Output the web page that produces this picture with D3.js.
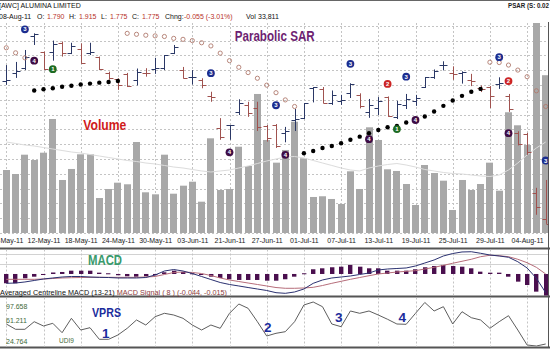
<!DOCTYPE html>
<html><head><meta charset="utf-8">
<script src="https://cdn.jsdelivr.net/npm/d3@7"></script>
<style>
body{margin:0;background:#fff;}
svg{display:block;font-family:"Liberation Sans",Arial,sans-serif;}
</style></head><body>
<svg id="c" width="550" height="350"></svg>
<script>
// ---------- DATA ----------
const dates = ["06-May-11","09-May-11","10-May-11","11-May-11","12-May-11","13-May-11","16-May-11","17-May-11","18-May-11","19-May-11","20-May-11","23-May-11","24-May-11","25-May-11","26-May-11","27-May-11","30-May-11","31-May-11","01-Jun-11","02-Jun-11","03-Jun-11","16-Jun-11","17-Jun-11","20-Jun-11","21-Jun-11","22-Jun-11","23-Jun-11","24-Jun-11","27-Jun-11","28-Jun-11","29-Jun-11","30-Jun-11","01-Jul-11","04-Jul-11","05-Jul-11","06-Jul-11","07-Jul-11","08-Jul-11","11-Jul-11","12-Jul-11","13-Jul-11","14-Jul-11","15-Jul-11","18-Jul-11","19-Jul-11","20-Jul-11","21-Jul-11","22-Jul-11","25-Jul-11","26-Jul-11","27-Jul-11","28-Jul-11","29-Jul-11","01-Aug-11","02-Aug-11","03-Aug-11","04-Aug-11","05-Aug-11","08-Aug-11"];
const tickLabels = ["06-May-11","12-May-11","18-May-11","24-May-11","30-May-11","03-Jun-11","21-Jun-11","27-Jun-11","01-Jul-11","07-Jul-11","13-Jul-11","19-Jul-11","25-Jul-11","29-Jul-11","04-Aug-11"];

const high = [2.281,2.291,2.329,2.382,2.324,2.359,2.356,2.352,2.350,2.352,2.308,2.260,2.239,2.256,2.270,2.271,2.304,2.313,2.345,2.275,2.265,2.239,2.196,2.112,2.090,2.172,2.164,2.164,2.090,2.093,2.084,2.141,2.160,2.211,2.211,2.200,2.186,2.223,2.191,2.173,2.179,2.181,2.167,2.189,2.186,2.243,2.267,2.293,2.277,2.261,2.253,2.216,2.214,2.242,2.189,2.070,2.065,1.890,1.915];
const low = [2.218,2.240,2.265,2.345,2.265,2.295,2.308,2.316,2.285,2.313,2.265,2.234,2.202,2.211,2.216,2.244,2.253,2.265,2.316,2.238,2.219,2.207,2.164,2.043,2.043,2.122,2.116,2.071,2.037,2.017,2.035,2.071,2.109,2.162,2.159,2.154,2.154,2.176,2.143,2.113,2.122,2.116,2.109,2.141,2.151,2.208,2.237,2.264,2.234,2.222,2.214,2.195,2.144,2.205,2.132,2.025,1.995,1.804,1.775];
const open = [2.230,2.256,2.272,2.374,2.323,2.324,2.350,2.321,2.331,2.320,2.306,2.257,2.236,2.253,2.232,2.257,2.269,2.271,2.320,2.265,2.242,2.234,2.181,2.080,2.089,2.133,2.154,2.144,2.087,2.089,2.065,2.106,2.113,2.208,2.205,2.160,2.168,2.191,2.186,2.132,2.144,2.179,2.116,2.154,2.167,2.211,2.242,2.280,2.256,2.256,2.234,2.208,2.210,2.222,2.184,2.065,2.060,1.874,1.790];
const close = [2.232,2.261,2.307,2.379,2.267,2.348,2.321,2.342,2.287,2.323,2.268,2.239,2.218,2.214,2.259,2.255,2.271,2.313,2.339,2.240,2.243,2.218,2.179,2.051,2.090,2.159,2.129,2.084,2.049,2.023,2.071,2.109,2.159,2.210,2.160,2.186,2.170,2.221,2.149,2.154,2.167,2.119,2.157,2.173,2.176,2.242,2.262,2.281,2.254,2.259,2.230,2.205,2.183,2.224,2.141,2.031,2.004,1.830,1.775];

const volume = [13500,12640,16780,15640,17210,24430,11360,13720,16860,16870,7500,9430,10780,10440,19500,8720,8290,16780,8420,10140,10990,6710,20290,9220,9430,18490,14360,29790,19930,15070,17790,23850,16010,7720,7870,7290,6220,13220,9430,22650,19930,13650,13290,10500,6000,14570,12860,11210,4930,11360,9220,10500,15070,9070,25870,23080,18860,52000,33811];
const volumeAvg = [19500,19180,18860,18640,18320,18000,17680,17360,17140,16820,16500,16180,15860,15540,15320,15000,14790,14470,14140,13930,13610,13290,13070,13290,13500,13930,14360,14890,15430,15860,16290,16390,16070,15540,15000,14470,13930,13500,13290,13930,14360,14680,14890,14570,14140,13610,13290,12970,12750,12640,12430,12220,12110,12430,13500,15000,16720,18220,19500];

const sar = [2.336,2.320,2.304,2.200,2.204,2.207,2.212,2.215,2.219,2.222,2.225,2.227,2.230,2.382,2.379,2.376,2.374,2.372,2.366,2.363,2.359,2.352,2.342,2.319,2.295,2.274,2.257,2.239,2.217,2.193,2.170,2.149,2.000,2.007,2.017,2.023,2.032,2.043,2.053,2.064,2.074,2.083,2.087,2.098,2.106,2.117,2.133,2.151,2.168,2.183,2.196,2.205,2.290,2.289,2.281,2.265,2.244,2.199,2.149];
const sarTrend = [-1,-1,-1,1,1,1,1,1,1,1,1,1,1,-1,-1,-1,-1,-1,-1,-1,-1,-1,-1,-1,-1,-1,-1,-1,-1,-1,-1,-1,1,1,1,1,1,1,1,1,1,1,1,1,1,1,1,1,1,1,1,1,-1,-1,-1,-1,-1,-1,-1];

const markerBars = [2,3,5,22,24,29,30,37,39,41,42,43,44,53,54,54,58];
const markerNums = [3,4,1,3,4,3,4,3,4,2,1,3,4,3,2,4,3];
const markerPrices = [2.395,2.295,2.268,2.255,2.003,2.153,1.995,2.285,2.045,2.221,2.077,2.244,2.106,2.306,2.230,2.064,1.977];

const macdLine = [-0.0295,-0.0290,-0.0274,-0.0251,-0.0228,-0.0212,-0.0197,-0.0189,-0.0189,-0.0197,-0.0202,-0.0205,-0.0212,-0.0212,-0.0212,-0.0205,-0.0166,-0.0104,-0.0081,-0.0104,-0.0143,-0.0189,-0.0236,-0.0282,-0.0313,-0.0336,-0.0360,-0.0383,-0.0406,-0.0440,-0.0450,-0.0429,-0.0383,-0.0295,-0.0243,-0.0212,-0.0197,-0.0181,-0.0158,-0.0135,-0.0088,-0.0073,-0.0065,-0.0057,-0.0026,0.0020,0.0067,0.0129,0.0167,0.0191,0.0195,0.0171,0.0144,0.0129,0.0109,0.0040,-0.0057,-0.0217,-0.0440];
const macdSignal = [-0.0233,-0.0233,-0.0233,-0.0233,-0.0228,-0.0220,-0.0212,-0.0208,-0.0205,-0.0202,-0.0202,-0.0202,-0.0202,-0.0202,-0.0202,-0.0197,-0.0189,-0.0158,-0.0127,-0.0119,-0.0127,-0.0143,-0.0174,-0.0212,-0.0243,-0.0267,-0.0290,-0.0313,-0.0336,-0.0360,-0.0372,-0.0372,-0.0367,-0.0357,-0.0329,-0.0295,-0.0264,-0.0233,-0.0205,-0.0177,-0.0150,-0.0135,-0.0119,-0.0109,-0.0099,-0.0073,-0.0047,-0.0016,0.0016,0.0047,0.0078,0.0118,0.0140,0.0133,0.0118,0.0078,0.0025,-0.0047,-0.0150];
const macdHist = [-0.0144,-0.0144,-0.0067,-0.0042,-0.0016,0.0023,0.0031,0.0051,0.0051,0.0051,0.0020,0.0011,-0.0020,-0.0036,-0.0042,-0.0036,-0.0020,0.0026,0.0051,0.0031,0.0011,-0.0016,-0.0042,-0.0062,-0.0082,-0.0093,-0.0093,-0.0093,-0.0104,-0.0104,-0.0082,-0.0042,0.0011,0.0073,0.0088,0.0104,0.0113,0.0140,0.0113,0.0088,0.0088,0.0051,0.0051,0.0051,0.0073,0.0104,0.0124,0.0140,0.0124,0.0113,0.0088,0.0036,0.0020,0.0020,-0.0042,-0.0119,-0.0171,-0.0274,-0.0352];
const macdCentre = -0.015;
const macdGrid = [0, 0.016];

const vprs = [61.21,52.43,52.43,65.02,57.90,62.37,46.80,70.65,51.27,55.08,35.86,35.86,42.99,54.09,67.84,59.55,73.30,78.94,76.12,70.65,59.55,51.27,59.55,54.09,78.94,94.35,87.22,65.02,41.33,45.80,48.45,65.02,92.69,97.658,89.87,61.21,56.74,82.75,78.94,82.75,76.12,69.00,61.21,60.71,78.94,96.90,82.75,89.87,61.21,81.59,71.65,67.84,54.09,65.02,74.96,51.27,26.42,24.764,28.08];
const vprsLevels = [97.658, 61.211, 24.764];

// ---------- CHART ----------
const svg = d3.select('#c');
const n = dates.length;
const idx = d3.range(n);
const x = d3.scalePoint().domain(dates).range([6.3, 545.7]);
const yP = d3.scaleLinear().domain([1.746, 2.415]).range([233, 23]);
const yV = d3.scaleLinear().domain([0, 45000]).range([233, 23]);
const yM = d3.scaleLinear().domain([-0.05, 0.02]).range([296.55, 251.4]);
const yR = d3.scaleLinear().domain([24.764, 97.658]).range([346, 302]);
const cx = i => Math.round(x(dates[i])) + 0.5;
const cr = v => Math.round(v) + 0.5;
const f3 = v => v.toFixed(3);

const NAVY = '#2b3866', BROWN = '#a0524f', GRID = '#c4c4c4', RED = '#b8322a';

const defs = svg.append('defs');
defs.append('clipPath').attr('id','clipMain').append('rect').attr('x',0).attr('y',23).attr('width',548).attr('height',211);
defs.append('clipPath').attr('id','clipMacd').append('rect').attr('x',0).attr('y',249.5).attr('width',548).attr('height',46);
defs.append('clipPath').attr('id','clipVprs').append('rect').attr('x',0).attr('y',297.5).attr('width',548).attr('height',49);

// header
svg.append('line').attr('x1',0).attr('x2',550).attr('y1',0.5).attr('y2',0.5).attr('stroke','#666');
const hdr = svg.append('g').attr('font-size','7px');
hdr.append('text').attr('x',-1).attr('y',8).attr('fill','#111').text('[AWC] ALUMINA LIMITED');
const L = n - 1;
const chg = close[L] - close[L-1];
const segs = [
  {t: dates[L], x: -1, c: '#111'},
  {t: 'O:', x: 37, c: '#111'}, {t: f3(open[L]), x: 47, c: RED},
  {t: 'H:', x: 69, c: '#111'}, {t: f3(high[L]), x: 79, c: RED},
  {t: 'L:', x: 101, c: '#111'}, {t: f3(low[L]), x: 110, c: RED},
  {t: 'C:', x: 132, c: '#111'}, {t: f3(close[L]), x: 142, c: RED},
  {t: 'Chng:', x: 165, c: '#111'},
  {t: f3(chg) + ' (' + (chg / close[L-1] * 100).toFixed(2) + '%)', x: 184, c: RED},
  {t: 'Vol', x: 246, c: '#111'}, {t: d3.format(',')(volume[L]), x: 258, c: '#111'}
];
hdr.selectAll('text.s').data(segs).join('text').attr('class','s')
  .attr('x', d => d.x).attr('y', 18.5).attr('fill', d => d.c).text(d => d.t);
svg.append('text').attr('x',508).attr('y',7.5).attr('font-size','6.5px').attr('font-weight','bold').attr('fill','#222')
  .attr('textLength',41).attr('lengthAdjust','spacingAndGlyphs').text('PSAR (S: 0.02');

// ---------- main panel ----------
const gP = svg.append('g').attr('clip-path','url(#clipMain)');
gP.selectAll('line.hg').data(d3.range(0, 15)).join('line')
  .attr('x1',0).attr('x2',548).attr('y1',k => cr(233 - 14.8*k)).attr('y2',k => cr(233 - 14.8*k))
  .attr('stroke',GRID).attr('stroke-dasharray','2,2');
gP.selectAll('line.vg').data(tickLabels).join('line')
  .attr('x1',d => Math.round(x(d))+0.5).attr('x2',d => Math.round(x(d))+0.5).attr('y1',23).attr('y2',234)
  .attr('stroke',GRID).attr('stroke-dasharray','2,2');

gP.selectAll('rect.vol').data(idx).join('rect')
  .attr('x', i => Math.round(x(dates[i]) - 3.5)).attr('width', 7)
  .attr('y', i => yV(volume[i])).attr('height', i => yV(0) - yV(volume[i]))
  .attr('fill', '#a8a8a8');
gP.append('path').datum(idx)
  .attr('d', d3.line().x(i => x(dates[i])).y(i => yV(volumeAvg[i])))
  .attr('fill','none').attr('stroke','#dcdcdc').attr('stroke-width',1);

const bar = gP.selectAll('g.ohlc').data(idx).join('g')
  .attr('stroke', i => close[i] >= open[i] ? NAVY : BROWN).attr('stroke-width', 1);
bar.append('line').attr('x1', cx).attr('x2', cx)
  .attr('y1', i => yP(high[i])).attr('y2', i => yP(low[i]));
bar.append('line').attr('x1', i => cx(i) - 4).attr('x2', i => cx(i))
  .attr('y1', i => cr(yP(open[i]))).attr('y2', i => cr(yP(open[i])));
bar.append('line').attr('x1', i => cx(i)).attr('x2', i => cx(i) + 4)
  .attr('y1', i => cr(yP(close[i]))).attr('y2', i => cr(yP(close[i])));

gP.selectAll('circle.sar').data(idx).join('circle')
  .attr('cx', i => x(dates[i])).attr('cy', i => yP(sar[i]))
  .attr('r', i => sarTrend[i] > 0 ? 2.2 : 2.1)
  .attr('fill', i => sarTrend[i] > 0 ? '#000' : 'none')
  .attr('stroke', i => sarTrend[i] > 0 ? 'none' : '#b07a6e').attr('stroke-width', 0.9);

const mColor = {1: '#1d6b22', 2: '#cc2424', 3: '#1c2d8f', 4: '#3f0d45'};
const mk = gP.selectAll('g.mk').data(markerBars.map((b, k) => k)).join('g')
  .attr('transform', k => `translate(${x(dates[markerBars[k]])},${yP(markerPrices[k])})`);
mk.append('circle').attr('r', 3.9).attr('fill', k => mColor[markerNums[k]]);
mk.append('text').text(k => markerNums[k]).attr('text-anchor','middle').attr('dy','0.36em')
  .attr('font-size','6px').attr('font-weight','bold').attr('fill','#fff');

svg.append('text').attr('x',234.7).attr('y',40.7).attr('font-size','14.5px').attr('font-weight','bold')
  .attr('fill','#6e1f72').attr('textLength',80).attr('lengthAdjust','spacingAndGlyphs').text('Parabolic SAR');
svg.append('text').attr('x',83.3).attr('y',129.5).attr('font-size','14px').attr('font-weight','bold')
  .attr('fill','#d01a1a').attr('textLength',43).attr('lengthAdjust','spacingAndGlyphs').text('Volume');

// x axis
const ax = svg.append('g').attr('transform','translate(0,235)')
  .call(d3.axisBottom(x).tickValues(tickLabels).tickSize(0).tickPadding(3));
ax.select('.domain').remove();
ax.attr('font-size', 7).attr('font-family', '"Liberation Sans",Arial,sans-serif');
ax.selectAll('text').attr('fill','#222');

// separators
[248.5, 296.5, 347.5].forEach(yy => svg.append('line').attr('x1',0).attr('x2',550).attr('y1',yy).attr('y2',yy).attr('stroke','#555').attr('stroke-width',2));
svg.append('line').attr('x1',548.5).attr('x2',548.5).attr('y1',22).attr('y2',348).attr('stroke','#555');

// ---------- MACD panel ----------
const gM = svg.append('g').attr('clip-path','url(#clipMacd)');
gM.selectAll('line.mg').data(macdGrid).join('line')
  .attr('x1',0).attr('x2',548).attr('y1', v => cr(yM(v))).attr('y2', v => cr(yM(v))).attr('stroke','#d2d2d2');
gM.selectAll('line.vg').data(tickLabels).join('line')
  .attr('x1',d => Math.round(x(d))+0.5).attr('x2',d => Math.round(x(d))+0.5).attr('y1',249.5).attr('y2',296)
  .attr('stroke',GRID).attr('stroke-dasharray','2,2');
gM.selectAll('rect.h').data(idx).join('rect')
  .attr('x', i => Math.round(x(dates[i]) - 2.2)).attr('width', 4.4)
  .attr('y', i => Math.min(yM(macdCentre), yM(macdCentre + macdHist[i])))
  .attr('height', i => Math.max(1, Math.abs(yM(macdCentre + macdHist[i]) - yM(macdCentre))))
  .attr('fill', '#4a0f4e');
gM.append('path').datum(idx).attr('d', d3.line().x(i => x(dates[i])).y(i => yM(macdSignal[i])))
  .attr('fill','none').attr('stroke','#b66d7a').attr('stroke-width',1);
gM.append('path').datum(idx).attr('d', d3.line().x(i => x(dates[i])).y(i => yM(macdLine[i])))
  .attr('fill','none').attr('stroke','#2b3170').attr('stroke-width',1);
svg.append('text').attr('x',88).attr('y',265).attr('font-size','15px').attr('font-weight','bold')
  .attr('fill','#3a9a6c').attr('textLength',34).attr('lengthAdjust','spacingAndGlyphs').text('MACD');
const ml = svg.append('text').attr('x',0).attr('y',294.5).attr('font-size','7px').attr('fill','#111')
  .attr('textLength',227).attr('lengthAdjust','spacingAndGlyphs');
ml.append('tspan').text('Averaged Centreline MACD (13-21) ');
ml.append('tspan').attr('fill','#8e3c3c').text('MACD Signal ( 8 )  (' + f3(macdLine[L]) + ', ' + f3(macdSignal[L]) + ')');

// ---------- VPRS panel ----------
const gR = svg.append('g').attr('clip-path','url(#clipVprs)');
gR.selectAll('line.vg').data(tickLabels).join('line')
  .attr('x1',d => Math.round(x(d))+0.5).attr('x2',d => Math.round(x(d))+0.5).attr('y1',297.5).attr('y2',347)
  .attr('stroke',GRID).attr('stroke-dasharray','2,2');
gR.append('path').datum(idx).attr('d', d3.line().x(i => x(dates[i])).y(i => yR(vprs[i])))
  .attr('fill','none').attr('stroke','#5e5e5e').attr('stroke-width',1);
const lvlOff = [7.2, -1.3, -2];
svg.selectAll('text.lvl').data(vprsLevels).join('text').attr('class','lvl')
  .attr('x', 6).attr('y', (v, k) => yR(v) + lvlOff[k]).attr('font-size','7px').attr('fill','#3f6b3a')
  .text(v => v.toFixed(3));
svg.append('text').attr('x',59).attr('y',342.5).attr('font-size','6.5px').attr('fill','#3f6b3a').text('UDI9');
svg.append('text').attr('x',92).attr('y',316.5).attr('font-size','13px').attr('font-weight','bold')
  .attr('fill','#1a2c9c').attr('textLength',29).attr('lengthAdjust','spacingAndGlyphs').text('VPRS');
const notes = [{t:'1', x:102, y:338}, {t:'2', x:264, y:332}, {t:'3', x:335, y:322}, {t:'4', x:398.5, y:322}];
svg.selectAll('text.note').data(notes).join('text').attr('class','note')
  .attr('x', d => d.x).attr('y', d => d.y).attr('font-size','13.5px').attr('font-weight','bold')
  .attr('fill','#1a2c9c').text(d => d.t);
</script>
</body></html>
